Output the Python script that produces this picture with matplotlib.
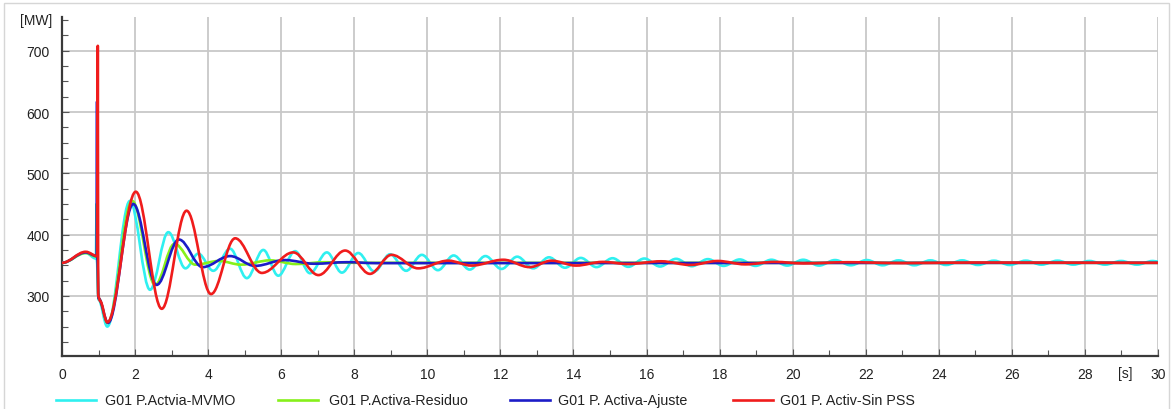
import matplotlib
matplotlib.use("Agg")
import matplotlib.pyplot as plt
from matplotlib.path import Path
from matplotlib.patches import PathPatch, Rectangle
from matplotlib.lines import Line2D
from matplotlib.ticker import MultipleLocator

plt.rcParams['font.family'] = ['Liberation Sans', 'DejaVu Sans']

# turning points (time [s], power [MW])
t_mvmo = [0, 0.65, 0.93, 0.945, 0.95, 1.0, 1.24, 1.86, 2.41, 2.91, 3.38, 3.73, 4.14, 4.6,
          5.06, 5.51, 5.92, 6.38, 6.79, 7.25, 7.66, 8.11, 8.55, 8.98, 9.42, 9.85, 10.29,
          10.72, 11.16, 11.59, 12.03, 12.46, 12.9, 13.33, 13.77, 14.2, 14.63, 15.07, 15.5,
          15.94, 16.37, 16.81, 17.24, 17.68, 18.11, 18.55, 18.98, 19.42, 19.85, 20.29,
          20.72, 21.16, 21.59, 22.03, 22.46, 22.9, 23.33, 23.77, 24.2, 24.64, 25.07, 25.51,
          25.94, 26.38, 26.81, 27.25, 27.68, 28.12, 28.55, 28.99, 29.42, 29.86, 30]
p_mvmo = [354, 370, 361, 450, 361, 294, 250, 455, 310, 404, 345, 369, 341, 377,
          329, 375, 333, 373, 337, 371, 338, 370, 340, 368, 341, 367, 342,
          366, 343, 365, 344, 364, 345, 363, 346, 362, 347, 361.5, 347.5,
          361, 348, 360.5, 348.5, 360, 349, 359.5, 349, 359, 349.5, 359,
          349.5, 358.5, 350, 358.5, 350, 358, 350, 358, 350.5, 358, 350.5, 357.5,
          350.5, 357.5, 351, 357.5, 351, 357, 351, 357, 351, 357, 356]

t_residuo = [0, 0.65, 0.95, 0.96, 0.965, 1.0, 1.25, 1.92, 2.55, 3.08, 3.65, 4.3, 4.9,
             5.7, 6.4, 7.2, 8.0, 30]
p_residuo = [354, 370, 364, 450, 364, 296, 256, 455, 318, 385, 351, 357, 351,
             358, 352, 355, 354, 354]

t_ajuste = [0, 0.65, 0.95, 0.96, 0.965, 1.0, 1.26, 1.95, 2.59, 3.2, 3.85, 4.6, 5.28,
            6.1, 6.9, 7.8, 8.6, 30]
p_ajuste = [354, 371, 365, 617, 365, 296, 256, 450, 318, 392, 347, 365, 349,
            358.5, 352.5, 355, 353.5, 354]

t_sinpss = [0, 0.65, 0.97, 0.98, 0.99, 1.04, 1.24, 2.02, 2.73, 3.41, 4.08, 4.74, 5.47,
            6.33, 7.02, 7.75, 8.43, 9.02, 9.75, 10.57, 11.21, 12.08, 12.8, 13.4, 14.07,
            14.8, 15.5, 16.4, 17.2, 17.95, 18.7, 19.5, 20.3, 21.5, 23.0, 25.0, 30]
p_sinpss = [354, 372, 365, 708, 300, 292, 257, 470, 279, 439, 303, 394, 337.5,
            371, 334, 374, 336, 367, 345, 357.5, 349.5, 359, 347, 357.5, 349.5,
            355.5, 352, 356.5, 350.5, 357, 351.5, 355.5, 353, 355, 353.5, 354.5, 354]

labels = ['G01 P.Actvia-MVMO', 'G01 P.Activa-Residuo', 'G01 P. Activa-Ajuste', 'G01 P. Activ-Sin PSS']
colors = ['#2ff0f0', '#86f01a', '#1c1cc8', '#f01c1c']


def smooth_path(t, v, k=0.36):
    # cubic segments with flat tangents at every turning point
    verts = [(t[0], v[0])]
    codes = [Path.MOVETO]
    for i in range(1, len(t)):
        d = t[i] - t[i - 1]
        verts += [(t[i - 1] + k * d, v[i - 1]), (t[i] - k * d, v[i]), (t[i], v[i])]
        codes += [Path.CURVE4] * 3
    return Path(verts, codes)


fig = plt.figure(figsize=(11.74, 4.10), dpi=100)
ax = fig.add_axes([62 / 1174, 1 - 357 / 410, 1096 / 1174, 339 / 410])

series = [(t_mvmo, p_mvmo), (t_residuo, p_residuo), (t_ajuste, p_ajuste), (t_sinpss, p_sinpss)]
for (t, p), c in zip(series, colors):
    ax.add_patch(PathPatch(smooth_path(t, p), fill=False, edgecolor=c, lw=1.9,
                           joinstyle='round', capstyle='round', zorder=3))

ax.set_xlim(0, 30)
ax.set_ylim(202, 755)
ax.xaxis.set_major_locator(MultipleLocator(2))
ax.xaxis.set_minor_locator(MultipleLocator(1))
ax.set_yticks([300, 400, 500, 600, 700])
ax.yaxis.set_minor_locator(MultipleLocator(25))
ax.grid(True, which='major', color='#c8c8c8', lw=1.3, zorder=0)
ax.set_axisbelow(True)

for s in ['top', 'right']:
    ax.spines[s].set_visible(False)
for s in ['left', 'bottom']:
    ax.spines[s].set_color('#3a3a3a')
    ax.spines[s].set_linewidth(1.6)

ax.tick_params(which='both', direction='in', colors='#555555', labelcolor='#222222', labelsize=10)
ax.tick_params(which='major', length=5, width=0.8)
ax.tick_params(which='minor', length=4, width=0.8)
ax.tick_params(axis='x', pad=8)
ax.tick_params(axis='y', pad=9)

fig.text(52 / 1174, 1 - 21 / 410, '[MW]', ha='right', va='center', fontsize=10, color='#222222')
fig.text(1125 / 1174, 1 - 374 / 410, '[s]', ha='center', va='center', fontsize=10, color='#222222')

# legend row under the axis
leg_y = 1 - 401 / 410
line_x = [56, 278, 510, 733]
text_x = [105, 329, 558, 780]
for lx, tx, c, lab in zip(line_x, text_x, colors, labels):
    fig.add_artist(Line2D([lx / 1174, (lx + 40) / 1174], [leg_y, leg_y], color=c, lw=1.9,
                          transform=fig.transFigure))
    fig.text(tx / 1174, leg_y, lab, ha='left', va='center', fontsize=10.3, color='#222222')

# thin frame round the picture
fig.add_artist(Rectangle((4 / 1174, -0.02), 1165 / 1174, 1 - 4 / 410 + 0.02, fill=False,
                         edgecolor='#d6d6d6', lw=1, transform=fig.transFigure))

fig.savefig('out.png', dpi=100)
